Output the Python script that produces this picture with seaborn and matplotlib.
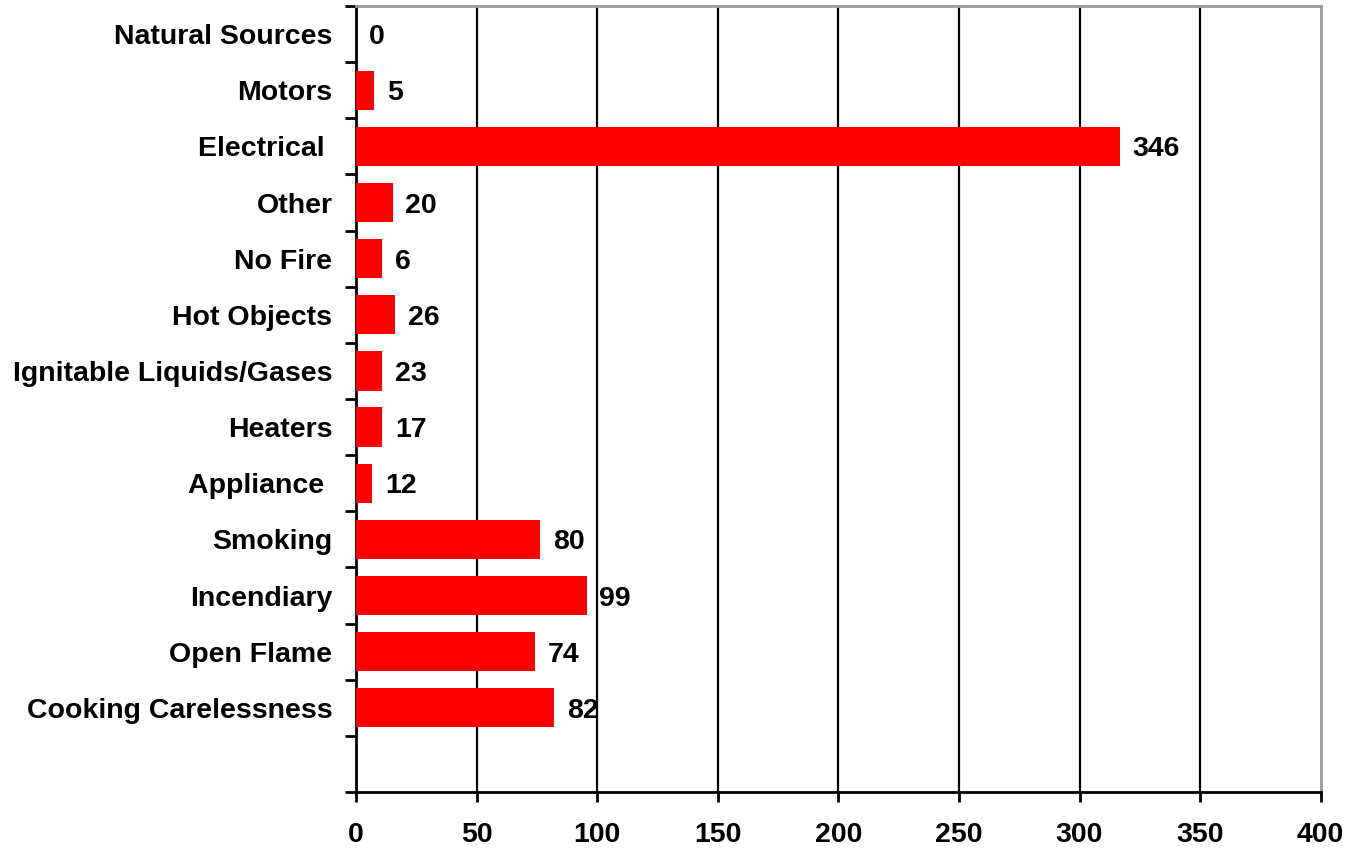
import matplotlib
matplotlib.use("Agg")
import matplotlib.pyplot as plt
import seaborn as sns
import numpy as np

# causes, top to bottom as shown
causes = ['Natural Sources', 'Motors', 'Electrical ', 'Other', 'No Fire', 'Hot Objects',
          'Ignitable Liquids/Gases', 'Heaters', 'Appliance ', 'Smoking', 'Incendiary',
          'Open Flame', 'Cooking Carelessness']
# bar lengths as drawn in the picture
bar_len = [0, 7.6, 316.7, 15.3, 10.9, 16.3, 10.9, 10.9, 6.8, 76.5, 95.6, 74.4, 82.3]
# the data labels printed beside the bars
label_text = ['0', '5', '346', '20', '6', '26', '23', '17', '12', '80', '99', '74', '82']

sns.set_style('white')
plt.rcParams['font.family'] = ['Liberation Sans', 'DejaVu Sans']
plt.rcParams['font.weight'] = 'bold'

fig = plt.figure(figsize=(13.58, 8.5), dpi=100)
ax = fig.add_axes([356/1358, 1 - 792/850, (1320.7-356)/1358, (792-6)/850])

sns.barplot(x=bar_len, y=causes, color='#ff0000', saturation=1, width=0.7,
            orient='h', linewidth=0, ax=ax, zorder=3)

# value labels next to each bar
for bar, txt in zip(ax.patches, label_text):
    ax.annotate(txt, (bar.get_width(), bar.get_y() + bar.get_height() / 2),
                xytext=(9, 0), textcoords='offset points', ha='left',
                va='center_baseline', fontsize=20.5, fontweight='bold', color='black')

ax.set_xlim(0, 400)
ax.set_ylim(13.5, -0.5)
ax.set_xticks(np.arange(0, 401, 50))
ax.set_xticklabels([str(v) for v in range(0, 401, 50)], fontsize=20.5, fontweight='bold')
ax.set_yticks(range(len(causes)))
ax.set_yticklabels(causes, fontsize=20.5, fontweight='bold')
ax.set_yticks(np.arange(-0.5, 14, 1), minor=True)
ax.tick_params(axis='y', which='major', left=True, length=0, pad=17, labelcolor='black')
ax.tick_params(axis='y', which='minor', left=True, length=8, width=2, color='black',
               direction='out')
ax.tick_params(axis='x', which='major', bottom=True, length=7.5, width=2, color='black',
               direction='out', pad=14, labelcolor='black')
ax.set_xlabel('')
ax.set_ylabel('')

for v in range(50, 400, 50):
    ax.axvline(v, color='black', linewidth=1.6, zorder=1)

for side in ['left', 'bottom']:
    ax.spines[side].set_color('black')
    ax.spines[side].set_linewidth(2)
for side in ['top', 'right']:
    ax.spines[side].set_visible(True)
    ax.spines[side].set_color('#999999')
    ax.spines[side].set_linewidth(2)

fig.savefig('out.png', dpi=100)
